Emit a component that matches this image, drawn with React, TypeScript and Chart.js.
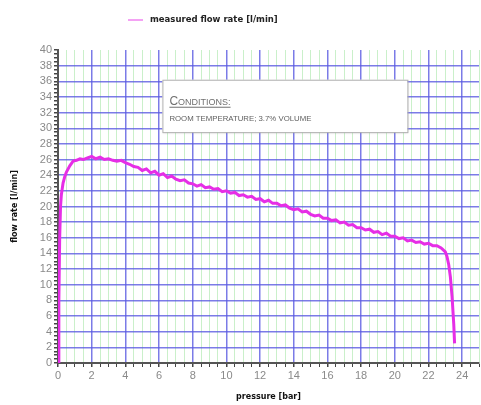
import { useEffect, useRef } from 'react';
import { Chart, registerables } from 'chart.js';

Chart.register(...registerables);

// ---- data ----
const pressure = [
  0, 0.05, 0.1, 0.15, 0.2, 0.3, 0.4, 0.5, 0.7, 0.9, 1.1, 1.3, 1.5, 1.75, 2, 2.25, 2.5, 2.75,
  3, 3.25, 3.5, 3.75, 4, 4.25, 4.5, 4.75, 5, 5.25, 5.5, 5.75, 6, 6.25, 6.5, 6.75,
  7, 7.25, 7.5, 7.75, 8, 8.25, 8.5, 8.75, 9, 9.25, 9.5, 9.75, 10, 10.25, 10.5, 10.75,
  11, 11.25, 11.5, 11.75, 12, 12.25, 12.5, 12.75, 13, 13.25, 13.5, 13.75, 14, 14.25, 14.5, 14.75,
  15, 15.25, 15.5, 15.75, 16, 16.25, 16.5, 16.75, 17, 17.25, 17.5, 17.75, 18, 18.25, 18.5, 18.75,
  19, 19.25, 19.5, 19.75, 20, 20.25, 20.5, 20.75, 21, 21.25, 21.5, 21.75, 22, 22.25, 22.5, 22.75,
  23, 23.1, 23.2, 23.3, 23.4, 23.5, 23.55,
];
const flowRate = [
  0, 8, 16, 20, 21.5, 23, 23.8, 24.4, 25.2, 25.8, 25.9, 26.1, 26.0, 26.2, 26.4, 26.1, 26.3, 26.0,
  26.1, 25.9, 25.8, 25.9, 25.6, 25.4, 25.1, 25.0, 24.6, 24.8, 24.3, 24.5, 24.0, 24.2, 23.7, 23.9,
  23.5, 23.3, 23.4, 23.0, 22.9, 22.6, 22.8, 22.4, 22.5, 22.2, 22.3, 21.9, 22.0, 21.7, 21.8, 21.4,
  21.5, 21.2, 21.3, 20.9, 21.0, 20.6, 20.8, 20.4, 20.4, 20.1, 20.2, 19.8, 19.6, 19.7, 19.3, 19.4,
  19.0, 18.8, 18.9, 18.5, 18.5, 18.2, 18.3, 17.9, 18.0, 17.6, 17.7, 17.3, 17.3, 17.0, 17.1, 16.7,
  16.8, 16.4, 16.6, 16.2, 16.2, 15.9, 16.0, 15.6, 15.7, 15.4, 15.5, 15.2, 15.3, 15.0, 15.0, 14.7,
  14.2, 13.6, 12.6, 11.0, 8.5, 5.0, 2.5,
];

const seriesLabel = 'measured flow rate [l/min]';
const xTitle = 'pressure [bar]';
const yTitle = 'flow rate [l/min]';
const noteTitle = 'Conditions:';
const noteText = 'ROOM TEMPERATURE; 3.7% VOLUME';

const xMin = 0;
const xMax = 25;
const yMin = 0;
const yMax = 40;
const minorStep = 0.5;
const labelStep = 2;

// note box extent in data units
const noteX = [6.2, 20.75];
const noteY = [36.2, 29.5];

const LINE_COLOR = '#e62ee6';
const MAJOR = 'rgba(90,90,225,0.8)';
const MINOR = 'rgba(150,225,150,0.5)';
const FONT = "'Liberation Sans', Arial, sans-serif";
const WIDE = "'DejaVu Sans', Verdana, sans-serif";

const isMajor = (v: number) => Math.abs(v / labelStep - Math.round(v / labelStep)) < 1e-6;

const noteBoxPlugin = {
  id: 'noteBox',
  beforeDatasetsDraw(chart: any) {
    const { ctx, scales } = chart;
    const x1 = scales.x.getPixelForValue(noteX[0]);
    const x2 = scales.x.getPixelForValue(noteX[1]);
    const y1 = scales.y.getPixelForValue(noteY[0]);
    const y2 = scales.y.getPixelForValue(noteY[1]);
    ctx.save();
    ctx.shadowColor = 'rgba(0,0,0,0.15)';
    ctx.shadowBlur = 3;
    ctx.shadowOffsetX = 1;
    ctx.shadowOffsetY = 1;
    ctx.fillStyle = '#ffffff';
    ctx.fillRect(x1, y1, x2 - x1, y2 - y1);
    ctx.shadowColor = 'transparent';
    ctx.strokeStyle = '#b0b0b0';
    ctx.lineWidth = 1;
    ctx.strokeRect(x1 + 0.5, y1 + 0.5, x2 - x1, y2 - y1);

    const tx = x1 + 7;
    const ty = y1 + 25;
    ctx.fillStyle = '#707070';
    ctx.textBaseline = 'alphabetic';
    ctx.font = `12px ${FONT}`;
    const first = noteTitle.slice(0, 1);
    ctx.fillText(first, tx, ty);
    const w1 = ctx.measureText(first).width;
    ctx.font = `9px ${FONT}`;
    const rest = noteTitle.slice(1).toUpperCase();
    ctx.fillText(rest, tx + w1, ty);
    const w2 = ctx.measureText(rest).width;
    ctx.strokeStyle = '#707070';
    ctx.beginPath();
    ctx.moveTo(tx, ty + 2.5);
    ctx.lineTo(tx + w1 + w2, ty + 2.5);
    ctx.stroke();

    ctx.fillStyle = '#606060';
    ctx.font = `7.8px ${FONT}`;
    ctx.fillText(noteText, tx, ty + 16);
    ctx.restore();
  },
};

const legendPlugin = {
  id: 'topLegend',
  afterDraw(chart: any) {
    const { ctx } = chart;
    ctx.save();
    const y = 20;
    ctx.strokeStyle = LINE_COLOR;
    ctx.globalAlpha = 0.6;
    ctx.lineWidth = 1.5;
    ctx.beginPath();
    ctx.moveTo(128, y);
    ctx.lineTo(143, y);
    ctx.stroke();
    ctx.globalAlpha = 1;
    ctx.fillStyle = '#222';
    ctx.font = `bold 8.5px ${WIDE}`;
    ctx.textBaseline = 'middle';
    ctx.fillText(seriesLabel, 150, y);
    ctx.restore();
  },
};

export default function App() {
  const ref = useRef<HTMLCanvasElement | null>(null);

  useEffect(() => {
    document.body.style.margin = '0';
    document.body.style.overflow = 'hidden';
    if (!ref.current) return;
    const points = pressure.map((p, i) => ({ x: p, y: flowRate[i] }));
    const chart = new Chart(ref.current, {
      type: 'line',
      data: {
        datasets: [
          {
            label: seriesLabel,
            data: points,
            borderColor: LINE_COLOR,
            borderWidth: 3,
            pointRadius: 0,
            tension: 0,
            fill: false,
          },
        ],
      },
      plugins: [noteBoxPlugin, legendPlugin],
      options: {
        animation: false,
        responsive: true,
        maintainAspectRatio: false,
        layout: { padding: { top: 50, right: 0, left: 0, bottom: 0 } },
        plugins: {
          legend: { display: false },
          tooltip: { enabled: false },
        },
        scales: {
          x: {
            type: 'linear',
            min: xMin,
            max: xMax,
            afterFit: (s: any) => {
              s.height = 42;
            },
            ticks: {
              stepSize: minorStep,
              autoSkip: false,
              maxRotation: 0,
              color: '#8a8a8a',
              font: { family: FONT, size: 11 },
              padding: 2,
              callback: (v: any) => (isMajor(Number(v)) && Number(v) < xMax ? String(v) : ''),
            },
            grid: {
              color: (c: any) => (isMajor(c.tick.value) ? MAJOR : MINOR),
              lineWidth: (c: any) => (isMajor(c.tick.value) ? 1.5 : 1),
              tickColor: '#444',
              tickLength: 4,
            },
            border: { color: '#555', width: 2 },
            title: {
              display: true,
              text: xTitle,
              color: '#111',
              font: { family: WIDE, size: 8, weight: 'bold' },
              padding: { top: 0, bottom: 3 },
            },
          },
          y: {
            type: 'linear',
            min: yMin,
            max: yMax,
            afterFit: (s: any) => {
              s.width = 58;
            },
            ticks: {
              stepSize: minorStep,
              autoSkip: false,
              color: '#8a8a8a',
              font: { family: FONT, size: 11 },
              padding: 2,
              callback: (v: any) => (isMajor(Number(v)) ? String(v) : ''),
            },
            grid: {
              color: (c: any) =>
                isMajor(c.tick.value) && c.tick.value < yMax ? MAJOR : 'rgba(0,0,0,0)',
              lineWidth: 1.5,
              tickColor: '#444',
              tickLength: 4,
            },
            border: { color: '#555', width: 2 },
            title: {
              display: true,
              text: yTitle,
              color: '#111',
              font: { family: WIDE, size: 8, weight: 'bold' },
              padding: { top: 10, bottom: 0 },
            },
          },
        },
      },
    });
    return () => chart.destroy();
  }, []);

  return (
    <div style={{ width: 481, height: 405, position: 'relative' }}>
      <canvas ref={ref} />
    </div>
  );
}
